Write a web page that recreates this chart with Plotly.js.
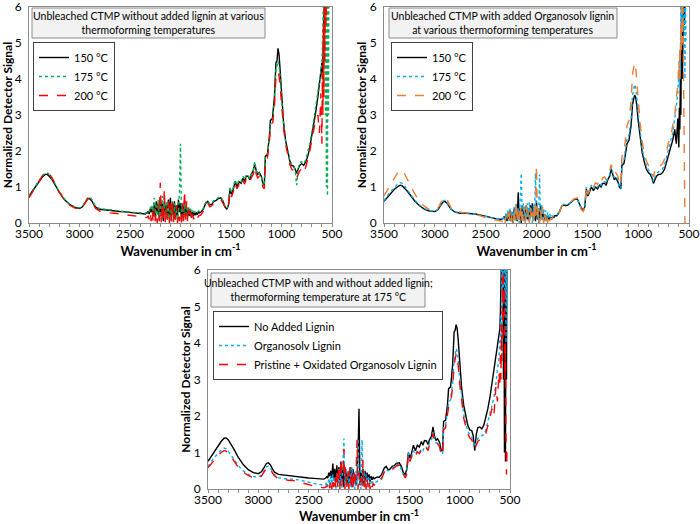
<!DOCTYPE html>
<html>
<head>
<meta charset="utf-8">
<script src="https://cdn.plot.ly/plotly-3.0.1.min.js"></script>
<style>html,body{margin:0;padding:0;background:#fff;}#chart{width:700px;height:524px;}</style>
</head>
<body>
<div id="chart"></div>
<script>
// Shared wavenumber grid (cm-1)
const wavenumber = [
3500,3450,3400,3370,3340,3320,3300,3270,3240,3200,3150,3100,3050,3000,2970,2940,2920,2900,2880,2860,2840,2800,2750,2700,2650,2600,2550,2500,2450,2400,2350,
2330,2320,2310,2300,2290,2280,2270,2260,2250,2240,2230,2220,2210,2200,2190,2180,2170,2160,2150,2140,2130,2120,2110,2100,2090,2080,2070,2060,2050,2040,2030,2020,2010,2000,1990,1980,1970,1960,1950,1940,1930,1920,1910,1900,1890,1880,1870,1860,1850,1840,1830,1820,1810,
1800,1775,1750,1730,1710,1690,1670,1650,1630,1600,1580,1560,1540,1525,1510,1495,1480,1460,1440,1420,1400,1380,1365,1350,1330,1315,1300,1280,1265,1250,1235,1220,1200,1185,1170,1160,1140,1120,1110,1090,1070,1055,1045,1035,1025,1015,1000,980,960,940,920,900,880,865,850,835,820,800,780,760,740,720,700,
680,660,640,625,610,600,595,590,585,580,575,570,565,560,555,550,545,540,535,530
];

// Panel 1: without added lignin
const noLignin150 = [
0.75,0.95,1.15,1.27,1.35,1.35,1.3,1.2,1.05,0.85,0.65,0.52,0.44,0.4,0.45,0.58,0.67,0.68,0.62,0.52,0.44,0.38,0.36,0.35,0.33,0.32,0.31,0.29,0.28,0.27,0.25,
0.28,0.32,0.25,0.4,0.3,0.45,0.2,0.5,0.15,0.6,0.3,0.55,0.1,0.7,0.2,0.55,0.05,0.6,0.3,0.5,0.1,0.65,0.2,0.7,0.05,0.55,0.25,0.6,0.1,0.5,0.2,0.65,0.3,0.55,0.05,0.5,0.15,0.6,0.2,0.45,0.15,0.4,0.2,0.35,0.15,0.3,0.2,0.3,0.22,0.28,0.25,0.3,0.28,
0.3,0.38,0.55,0.6,0.5,0.52,0.6,0.62,0.67,0.7,0.6,0.45,0.38,0.5,0.95,0.8,0.9,1.15,1.0,1.15,1.1,1.25,1.15,1.3,1.3,1.2,1.35,1.45,1.65,1.45,1.35,1.4,1.3,1.1,1.05,1.85,1.9,2.4,2.85,2.9,3.5,4.45,4.5,4.85,4.7,4.3,3.6,2.8,2.3,2.0,1.75,1.6,1.58,1.5,1.38,1.5,1.6,1.65,1.6,1.7,1.85,2.1,2.4,
2.8,3.1,3.5,3.9,4.2,4.45,4.0,5.0,5.8,6.5,7,8,7,8,7,8,6.5,7,6,6.5
];
const noLignin175 = [
0.76,0.97,1.18,1.3,1.39,1.4,1.35,1.23,1.08,0.87,0.67,0.53,0.45,0.42,0.47,0.6,0.7,0.72,0.66,0.55,0.46,0.4,0.38,0.36,0.35,0.34,0.32,0.3,0.29,0.28,0.27,
0.3,0.35,0.3,0.45,0.35,0.5,0.3,0.7,0.25,0.55,0.2,0.65,0.15,0.6,0.1,0.75,0.2,0.55,0.05,0.6,0.2,0.45,0.1,0.5,0.15,0.6,0.05,0.55,0.2,0.4,0.1,0.3,0.9,2.2,0.1,0.45,0.2,0.55,0.1,0.5,0.2,0.45,0.25,0.4,0.2,0.35,0.25,0.33,0.28,0.3,0.3,0.33,0.32,
0.32,0.4,0.57,0.62,0.52,0.55,0.62,0.64,0.7,0.72,0.62,0.45,0.4,0.55,1.0,0.85,0.95,1.2,1.05,1.2,1.15,1.3,1.2,1.33,1.32,1.22,1.35,1.45,1.7,1.45,1.33,1.38,1.28,1.08,1.02,1.85,1.88,2.35,2.75,2.8,3.4,4.3,4.35,4.5,4.4,4.1,3.45,2.75,2.3,2.0,1.75,1.62,1.6,1.45,1.05,1.5,1.68,1.7,1.65,1.75,1.95,2.2,2.5,
2.9,3.2,3.6,3.9,4.3,4.4,4.9,5.6,6.5,7,5.5,7,3.0,6.5,1.0,7,0.75,6.5,3,7
];
const noLignin200 = [
0.7,0.93,1.17,1.3,1.4,1.42,1.37,1.25,1.08,0.86,0.64,0.5,0.42,0.38,0.43,0.57,0.67,0.69,0.62,0.5,0.4,0.33,0.3,0.28,0.27,0.25,0.24,0.22,0.2,0.18,0.15,
0.15,0.2,0.1,0.3,0.05,0.35,0.0,0.4,0.05,0.3,0.0,0.5,0.05,1.12,0.0,0.6,0.05,0.95,0.0,0.45,0.1,0.6,0.0,0.55,0.05,0.65,0.0,0.4,0.1,0.5,0.0,0.3,0.05,0.2,0.0,0.55,0.05,0.9,0.1,0.6,0.05,0.4,0.1,0.3,0.05,0.25,0.1,0.2,0.12,0.18,0.15,0.2,0.2,
0.22,0.32,0.5,0.55,0.45,0.48,0.55,0.57,0.62,0.65,0.55,0.42,0.35,0.45,0.88,0.72,0.85,1.1,0.95,1.08,1.02,1.18,1.08,1.22,1.22,1.12,1.25,1.35,1.55,1.35,1.25,1.3,1.2,1.0,0.95,1.75,1.8,2.25,2.65,2.7,3.25,4.05,4.1,4.2,4.1,3.85,3.3,2.65,2.2,1.9,1.65,1.5,1.45,1.35,1.25,1.35,1.45,1.5,1.4,1.55,1.75,2.0,2.3,
2.6,2.9,3.0,2.5,3.6,2.2,4.2,3.0,5.5,3.5,6.5,4.5,7,5.5,7,6.5,7,7.5,6.5,7
];

// Panel 2: with added Organosolv lignin
const organo150 = [
0.6,0.78,0.93,1.0,1.05,1.03,0.98,0.88,0.77,0.62,0.48,0.38,0.33,0.32,0.37,0.5,0.58,0.6,0.55,0.46,0.38,0.3,0.27,0.27,0.27,0.25,0.22,0.18,0.15,0.12,0.1,
0.12,0.18,0.1,0.25,0.05,0.3,0.1,0.35,0.05,0.3,0.0,0.4,0.1,0.35,0.05,0.85,0.1,0.4,0.0,0.5,0.1,0.45,0.05,0.5,0.1,0.4,0.05,0.5,0.2,0.55,0.1,0.3,0.05,0.6,0.1,0.4,0.05,0.5,0.1,0.3,0.05,0.25,0.1,0.2,0.08,0.18,0.1,0.15,0.12,0.17,0.15,0.2,0.2,
0.2,0.3,0.48,0.5,0.48,0.5,0.55,0.6,0.65,0.67,0.55,0.42,0.35,0.45,0.95,0.75,0.85,1.0,0.9,1.0,0.95,1.05,1.0,1.1,1.1,1.05,1.2,1.3,1.5,1.3,1.2,1.25,1.15,1.0,0.95,1.6,1.65,2.0,2.2,2.3,2.7,3.3,3.45,3.55,3.5,3.3,2.85,2.3,1.95,1.7,1.5,1.4,1.35,1.25,1.1,1.2,1.3,1.35,1.35,1.4,1.5,1.7,1.9,
2.1,2.3,2.6,2.2,2.9,2.1,3.2,2.6,4.0,3.0,5.0,6.5,4.0,7,6.5,7,5.5,7,6.5,7
];
const organo175 = [
0.62,0.82,0.98,1.07,1.12,1.1,1.04,0.93,0.8,0.64,0.5,0.4,0.34,0.33,0.38,0.52,0.61,0.63,0.57,0.47,0.39,0.31,0.28,0.28,0.27,0.25,0.22,0.18,0.15,0.13,0.1,
0.12,0.2,0.08,0.3,0.1,0.35,0.05,0.4,0.1,0.35,0.0,0.45,0.05,0.55,0.1,0.45,0.0,0.6,1.38,0.1,0.55,0.05,0.5,0.15,0.55,0.05,0.6,0.1,0.45,0.0,0.5,0.1,1.38,0.2,0.3,0.0,1.35,0.1,0.5,0.05,0.4,0.1,0.35,0.05,0.3,0.15,0.25,0.15,0.2,0.18,0.2,0.22,0.22,
0.22,0.32,0.5,0.52,0.5,0.52,0.57,0.62,0.67,0.68,0.55,0.4,0.33,0.45,1.0,0.78,0.88,1.05,0.95,1.05,1.0,1.1,1.05,1.15,1.15,1.1,1.25,1.35,1.55,1.35,1.25,1.3,1.2,1.0,0.95,1.7,1.75,2.15,2.35,2.45,2.9,3.55,3.75,3.85,3.75,3.55,3.05,2.45,2.05,1.8,1.6,1.48,1.42,1.32,1.15,1.28,1.38,1.42,1.45,1.5,1.62,1.85,2.1,
2.3,2.5,2.9,3.2,3.6,4.2,3.8,4.8,4.2,6.5,5.0,7,5.5,7,6,5.3,7,4.0,6.5,5.0
];
const organo200 = [
0.75,1.0,1.25,1.38,1.47,1.45,1.38,1.22,1.05,0.82,0.6,0.46,0.37,0.34,0.4,0.57,0.69,0.72,0.66,0.53,0.42,0.32,0.29,0.28,0.27,0.24,0.2,0.15,0.1,0.08,0.05,
0.05,0.15,0.0,0.2,0.05,0.3,0.0,0.35,0.05,0.25,0.0,0.4,0.05,0.6,0.0,0.35,0.1,0.5,0.0,0.4,0.05,0.45,0.0,0.5,0.1,0.35,0.0,0.45,0.05,0.3,0.0,0.5,0.1,1.6,0.05,0.4,0.0,0.35,0.05,0.45,0.0,0.3,0.05,0.25,0.0,0.2,0.05,0.15,0.1,0.15,0.12,0.18,0.18,
0.2,0.3,0.48,0.52,0.5,0.52,0.58,0.62,0.67,0.7,0.55,0.38,0.32,0.45,1.02,0.8,0.92,1.1,1.0,1.12,1.08,1.2,1.12,1.25,1.28,1.2,1.35,1.45,1.62,1.45,1.35,1.4,1.3,1.1,1.05,1.85,1.95,2.45,2.7,2.85,3.4,4.15,4.35,4.45,4.35,4.05,3.45,2.75,2.25,1.95,1.72,1.6,1.55,1.42,1.28,1.45,1.55,1.62,1.6,1.65,1.78,2.0,2.25,
2.4,2.7,3.0,3.5,3.8,4.5,4.0,4.9,4.5,5.5,4.8,6.5,5.0,6,4.0,2.0,0.0,0.0,0.0,0.0
];

// Panel 3: pristine + oxidated Organosolv lignin (175 °C)
const pristineOxidated175 = [
0.58,0.76,0.92,1.0,1.05,1.04,0.98,0.88,0.76,0.6,0.46,0.37,0.31,0.3,0.35,0.48,0.57,0.6,0.54,0.44,0.36,0.28,0.25,0.24,0.23,0.2,0.17,0.12,0.08,0.05,0.03,
0.05,0.1,0.0,0.15,0.02,0.25,0.0,0.3,0.05,0.35,0.0,0.5,0.05,0.65,0.0,0.8,0.1,0.4,1.1,0.0,0.55,0.05,0.45,0.0,0.6,0.1,0.4,0.0,0.5,0.05,0.35,1.35,0.0,0.45,0.1,0.3,0.0,0.8,0.05,0.35,0.0,0.3,0.05,0.25,0.0,0.2,0.05,0.15,0.1,0.15,0.12,0.15,0.17,
0.18,0.28,0.46,0.5,0.46,0.48,0.53,0.58,0.63,0.65,0.52,0.38,0.3,0.42,0.98,0.75,0.85,1.02,0.92,1.02,0.97,1.08,1.02,1.12,1.12,1.05,1.2,1.3,1.52,1.3,1.2,1.25,1.15,0.98,0.92,1.62,1.68,2.05,2.25,2.35,2.8,3.4,3.6,3.7,3.6,3.4,2.9,2.35,1.95,1.72,1.52,1.4,1.35,1.25,1.1,1.2,1.3,1.35,1.38,1.42,1.52,1.72,1.95,
2.2,2.0,2.8,2.4,3.2,2.8,3.8,3.0,4.5,3.5,5.8,4.0,6.5,5.0,5.5,3.0,4.0,1.5,0.4,1.0
];

const legendLabelsTemp = ['150 °C', '175 °C', '200 °C'];
const legendLabelsLignin = ['No Added Lignin', 'Organosolv Lignin', 'Pristine + Oxidated Organosolv Lignin'];
const panelTitles = [
  'Unbleached CTMP without added lignin at various<br>thermoforming temperatures',
  'Unbleached CTMP with added Organosolv lignin<br>at various thermoforming temperatures',
  'Unbleached CTMP with and without added lignin;<br>thermoforming temperature at 175 °C'
];
const xTickValues = [3500, 3000, 2500, 2000, 1500, 1000, 500];
const yTickValues = [0, 1, 2, 3, 4, 5, 6];

[noLignin150,noLignin175,noLignin200,organo150,organo175,organo200,pristineOxidated175].forEach((s,i)=>{
  if (s.length !== wavenumber.length) throw new Error('series '+i+' length '+s.length+' != '+wavenumber.length);
});

const F = 'Lato, "Open Sans", sans-serif';
const BLACK = '#000000', GREEN = '#00b050', RED = '#ff0000', BLUE = '#00b0f0', ORANGE = '#ed7d31';

function tr(y, name, color, dash, xa, ya, leg) {
  return {x: wavenumber, y: y, name: name, type: 'scatter', mode: 'lines',
    line: {color: color, width: 1.4, dash: dash}, xaxis: xa, yaxis: ya, legend: leg};
}

const data = [
  tr(noLignin150, legendLabelsTemp[0], BLACK, 'solid', 'x', 'y', 'legend'),
  tr(noLignin175, legendLabelsTemp[1], GREEN, 'dot', 'x', 'y', 'legend'),
  tr(noLignin200, legendLabelsTemp[2], RED, 'dash', 'x', 'y', 'legend'),
  tr(organo150, legendLabelsTemp[0], BLACK, 'solid', 'x2', 'y2', 'legend2'),
  tr(organo175, legendLabelsTemp[1], BLUE, 'dot', 'x2', 'y2', 'legend2'),
  tr(organo200, legendLabelsTemp[2], ORANGE, 'dash', 'x2', 'y2', 'legend2'),
  tr(noLignin175, legendLabelsLignin[0], BLACK, 'solid', 'x3', 'y3', 'legend3'),
  tr(organo175, legendLabelsLignin[1], BLUE, 'dot', 'x3', 'y3', 'legend3'),
  tr(pristineOxidated175, legendLabelsLignin[2], RED, 'dash', 'x3', 'y3', 'legend3')
];

const W = 700, H = 524;
const px = v => v / W, py = v => 1 - v / H;

function xax(l, r, anchor) {
  return {domain: [px(l), px(r)], anchor: anchor, range: [3500, 500], tickmode: 'array', tickvals: xTickValues,
    showline: true, linecolor: '#8c8c8c', linewidth: 1, mirror: true, showgrid: false, zeroline: false,
    ticks: 'outside', ticklen: 3, tickcolor: '#8c8c8c', tickfont: {family: F, size: 12, color: '#000'},
    ticklabelstandoff: -3, ticklabeloverflow: 'allow',
    minor: {tickmode: 'linear', tick0: 500, dtick: 100, ticks: 'outside', ticklen: 3, tickcolor: '#8c8c8c', showgrid: false},
    title: {text: '<b>Wavenumber in cm<sup>-1</sup></b>', font: {family: F, size: 13, color: '#000'}, standoff: 0}};
}
function yax(t, b, anchor) {
  return {domain: [py(b), py(t)], anchor: anchor, range: [0, 6], tickmode: 'array', tickvals: yTickValues,
    showline: true, linecolor: '#8c8c8c', linewidth: 1, mirror: true, showgrid: false, zeroline: false,
    ticks: '', tickfont: {family: F, size: 12, color: '#000'}, ticklabeloverflow: 'allow', ticklabelstandoff: 4,
    title: {text: '<b>Normalized Detector Signal</b>', font: {family: F, size: 12, color: '#000'}, standoff: 0}};
}
function legendAt(l, t) {
  return {x: px(l), y: py(t), xanchor: 'left', yanchor: 'top', xref: 'paper', yref: 'paper',
    bgcolor: '#ffffff', bordercolor: '#404040', borderwidth: 1, font: {family: F, size: 11, color: '#000'},
    itemwidth: 30, tracegroupgap: 0};
}
function boxShape(l, r, t, b) {
  return {type: 'rect', xref: 'paper', yref: 'paper', x0: px(l), x1: px(r), y0: py(b), y1: py(t),
    fillcolor: '#f2f2f2', line: {color: '#8c8c8c', width: 1}, layer: 'above'};
}
function titleText(text, l, r, t, b) {
  return {text: text, xref: 'paper', yref: 'paper', x: px((l + r) / 2), y: py((t + b) / 2),
    xanchor: 'center', yanchor: 'middle', showarrow: false, align: 'center',
    font: {family: F, size: 10.5, color: '#000'}};
}

const layout = {
  width: W, height: H, margin: {l: 0, r: 0, t: 0, b: 0}, paper_bgcolor: '#fff', plot_bgcolor: '#fff',
  font: {family: F}, showlegend: true,
  xaxis: xax(29, 332, 'y'), yaxis: yax(7, 223, 'x'),
  xaxis2: xax(384, 689, 'y2'), yaxis2: yax(7, 223, 'x2'),
  xaxis3: xax(208, 510, 'y3'), yaxis3: yax(270, 489, 'x3'),
  legend: legendAt(33, 42), legend2: legendAt(391, 42), legend3: legendAt(213, 311),
  shapes: [boxShape(32, 265, 8, 38), boxShape(389, 617, 8, 38), boxShape(211, 425, 273, 307)],
  annotations: [
    titleText(panelTitles[0], 32, 265, 8, 38),
    titleText(panelTitles[1], 389, 617, 8, 38),
    titleText(panelTitles[2], 211, 425, 273, 307)
  ]
};

Plotly.newPlot('chart', data, layout, {staticPlot: true, displayModeBar: false});
</script>
</body>
</html>
